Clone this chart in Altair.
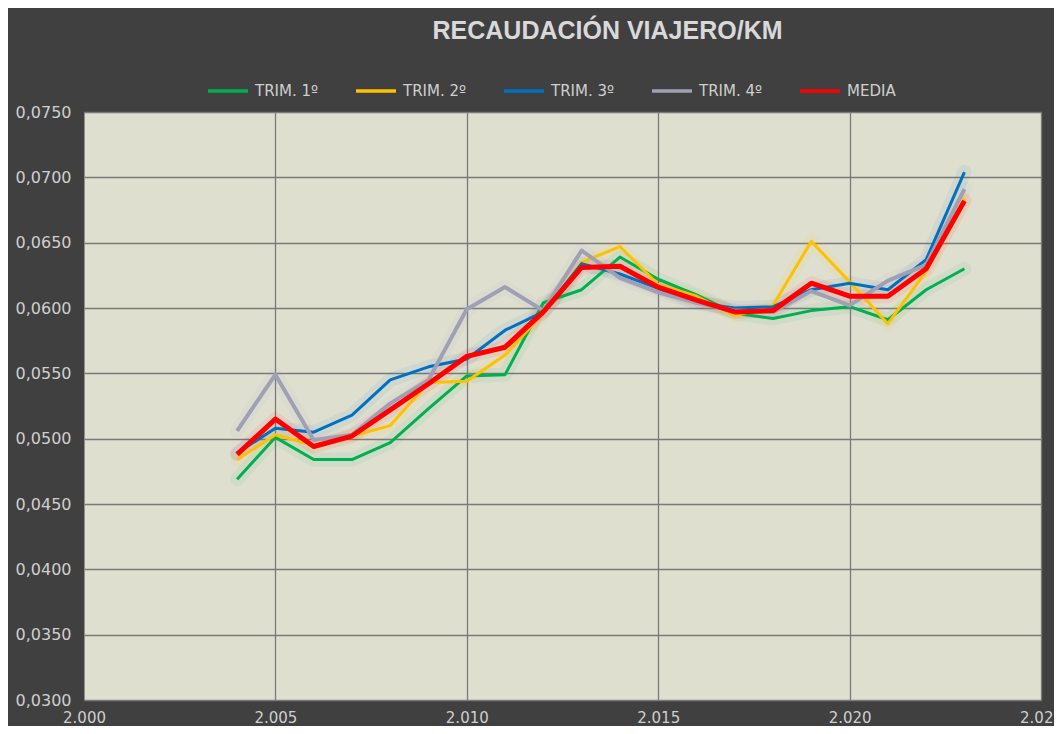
import altair as alt
import pandas as pd

years = list(range(2004, 2024))
series = ["TRIM. 1º", "TRIM. 2º", "TRIM. 3º", "TRIM. 4º", "MEDIA"]
colors = ["#00b050", "#ffc000", "#0070c0", "#a0a0b4", "#ff0000"]

trim1 = [0.0469, 0.0501, 0.0484, 0.0484, 0.0497, 0.0523, 0.0548, 0.0549, 0.0604, 0.0614,
         0.0639, 0.0622, 0.0610, 0.0596, 0.0592, 0.0598, 0.0601, 0.0591, 0.0614, 0.0630]
trim2 = [0.0484, 0.0503, 0.0495, 0.0502, 0.0510, 0.0543, 0.0544, 0.0564, 0.0596, 0.0635,
         0.0647, 0.0618, 0.0609, 0.0594, 0.0602, 0.0651, 0.0620, 0.0588, 0.0628, 0.0684]
trim3 = [0.0489, 0.0508, 0.0505, 0.0518, 0.0545, 0.0555, 0.0561, 0.0583, 0.0597, 0.0634,
         0.0626, 0.0615, 0.0604, 0.0600, 0.0601, 0.0614, 0.0619, 0.0614, 0.0637, 0.0704]
trim4 = [0.0506, 0.0549, 0.0499, 0.0503, 0.0527, 0.0545, 0.0599, 0.0616, 0.0598, 0.0644,
         0.0623, 0.0612, 0.0604, 0.0598, 0.0597, 0.0613, 0.0602, 0.0621, 0.0633, 0.0691]
media = [0.0488, 0.0515, 0.0494, 0.0502, 0.0522, 0.0542, 0.0563, 0.0570, 0.0597, 0.0631,
         0.0632, 0.0616, 0.0606, 0.0597, 0.0598, 0.0619, 0.0609, 0.0609, 0.0630, 0.0682]

x_ticks = [2000, 2005, 2010, 2015, 2020, 2025]
y_ticks = [0.030, 0.035, 0.040, 0.045, 0.050, 0.055, 0.060, 0.065, 0.070, 0.075]

rows = []
for name, vals in zip(series, [trim1, trim2, trim3, trim4, media]):
    for yr, v in zip(years, vals):
        rows.append({"year": yr, "serie": name, "value": v})
df = pd.DataFrame(rows)

FONT = "DejaVu Sans"
TFONT = "Liberation Sans"
TXT = "#d9d9d9"
LBL = "#cfcfcf"
GRID = "#7a7a7a"

x_enc = alt.X(
    "year:Q",
    scale=alt.Scale(domain=[2000, 2025], nice=False, zero=False),
    axis=alt.Axis(
        values=x_ticks, title=None, grid=True, ticks=False, tickSize=0, domain=False,
        labelExpr="replace(format(datum.value, ','), ',', '.')",
        labelPadding=10, labelFontSize=15, labelColor=LBL, labelFont=FONT,
        labelFlush=False,
        gridColor={"condition": {"test": "datum.value === 2000", "value": "transparent"}, "value": GRID},
        gridWidth=1.3,
    ),
)
y_enc = alt.Y(
    "value:Q",
    scale=alt.Scale(domain=[0.03, 0.075], nice=False, zero=False),
    axis=alt.Axis(
        values=y_ticks, title=None, grid=True, ticks=False, tickSize=0, domain=False,
        labelExpr="replace(format(datum.value, '.4f'), '.', ',')",
        labelPadding=13, labelFontSize=16, labelColor=LBL, labelFont=FONT,
        labelFlush=False, gridColor=GRID, gridWidth=1.3,
    ),
)

leg = alt.Legend(title=None, symbolOpacity=1, symbolStrokeWidth=3.5)
color_enc = alt.Color("serie:N", scale=alt.Scale(domain=series, range=colors), sort=series, legend=leg)

glow = alt.Chart(df).mark_line(strokeWidth=14, opacity=0.07, strokeCap="round", strokeJoin="round").encode(
    x=x_enc, y=y_enc, color=color_enc,
)

lines = alt.Chart(df).mark_line(strokeJoin="round").encode(
    x=x_enc, y=y_enc, color=color_enc,
    strokeWidth={
        "condition": [
            {"test": "datum.serie === 'MEDIA'", "value": 5},
            {"test": "datum.serie === 'TRIM. 4º'", "value": 4},
        ],
        "value": 3,
    },
)

chart = (
    alt.layer(glow, lines)
    .properties(
        width=957,
        height=588,
        padding={"left": 76, "top": 104, "right": 13, "bottom": 26},
        autosize=alt.AutoSizeParams(type="none"),
        background="#404040",
        title=alt.Title(
            "RECAUDACIÓN VIAJERO/KM", font=TFONT, fontSize=25, fontWeight="bold",
            color=TXT, anchor="middle", dx=45, offset=25,
        ),
    )
    .configure_view(fill="#dfdfd0", stroke="transparent")
    .configure_legend(
        orient="none", legendX=122, legendY=-43, direction="horizontal",
        symbolType="stroke", symbolSize=1600, labelColor=LBL, labelFont=FONT,
        labelFontSize=15, columnPadding=30, labelOffset=5,
    )
)

chart.save("out.html", embed_options={"renderer": "svg", "actions": False})
